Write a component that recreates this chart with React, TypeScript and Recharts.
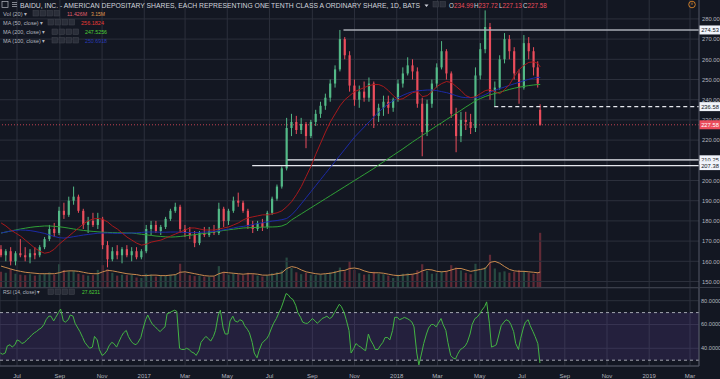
import React from "react";
import {
  Bar,
  CartesianGrid,
  Cell,
  ComposedChart,
  Line,
  LineChart,
  ReferenceArea,
  ReferenceLine,
  XAxis,
  YAxis,
} from "recharts";

const FONT = '"Liberation Sans", Arial, sans-serif';
const BG = "#131722";
const GRID = "#2c303c";
const AXIS = "#555966";
const TEXT = "#b2b5be";
const UP = "#53b987";
const DOWN = "#eb4d5c";

const DAY = 86400000;
// weekly candles (Mon of each week), last session shown as its own daily candle
const FIRST_MONDAY = "2016-06-06";
const LAST_SESSION = "2018-07-27";
const X0 = Date.parse("2016-06-06T10:00:00Z");
const X1 = Date.parse("2019-03-14T00:00:00Z");

const monthTicks = [
  "2016-07-01", "2016-09-01", "2016-11-01", "2017-01-01", "2017-03-01", "2017-05-01",
  "2017-07-01", "2017-09-01", "2017-11-01", "2018-01-01", "2018-03-01", "2018-05-01",
  "2018-07-01", "2018-09-01", "2018-11-01", "2019-01-01", "2019-03-01",
].map((d) => Date.parse(d));
const monthNames = ["Jan", "Feb", "Mar", "Apr", "May", "Jun", "Jul", "Aug", "Sep", "Oct", "Nov", "Dec"];

const opens = [166,163,165,160,164,163,162,164,163,167, 171,176,174,185,183,190,192,185,178,180, 178,181,168,161,165,163,166,163,165,162, 165,176,178,175,177,181,185,187,176,174, 173,169,174,173,175,174,186,180,185,190, 189,185,178,176,179,177,184,191,197,206, 226,229,225,228,222,229,233,237,241,248, 255,270,262,247,240,244,241,248,232,236, 239,236,240,248,253,257,254,238,224,238, 248,256,264,253,233,222,230,229,226,252, 265,276,244,246,260,270,264,253,246,268, 264,256,234.99];
const highs = [168,166,167,165,171,167,166,167,168,172, 178,179,187,189,192,197,193,186,182,184, 184,182,170,167,168,167,168,167,167,166, 178,180,180,178,182,186,189,188,178,177, 175,175,177,177,178,189,187,186,192,194, 190,186,180,180,181,185,192,198,207,231, 233,232,231,229,230,235,239,243,250,257, 274.53,271,264,250,247,249,251,249,238,242, 242,241,250,256,261,260,256,241,240,250, 258,269,265,254,236,234,234,233,256,268, 284.22,278,249,262,273,272,266,255,272,271, 266,259,237.72];
const lows = [162,160,158,158,162,160,159,161,162,166, 170,172,173,181,182,188,184,176,174,177, 176,166,157,160,161,159,162,160,161,161, 164,173,174,173,176,180,184,174,172,171, 167,168,172,172,173,173,177,178,184,187, 184,176,174,175,175,176,183,190,196,205, 222,223,223,216,221,227,231,235,239,246, 254,260,244,237,236,239,239,226,229,232, 233,234,239,246,252,250,236,212,222,236, 246,255,250,231,214,219,225,223,224,250, 263,240,236.58,245,258,260,250,238,245,260, 252,246,227.13];
const closes = [163,165,160,164,163,162,164,163,167,171, 176,174,185,183,190,192,185,178,180,178, 181,168,161,165,163,166,163,165,162,165, 176,178,175,177,181,185,187,176,174,173, 169,174,173,175,174,186,180,185,190,189, 185,178,176,179,177,184,191,197,206,226, 229,225,228,222,229,233,237,241,248,255, 270,262,247,240,244,241,248,232,236,239, 236,240,248,253,257,254,238,224,238,248, 256,264,253,233,222,230,229,226,252,265, 276,244,246,260,270,264,253,246,268,264, 256,248,227.58];

// average daily volume, millions of shares
const volumes = [3.2,3.0,3.8,2.8,2.6,2.5,2.7,2.4,2.6,2.9,3.1,2.6, 4.8,3.6,3.3,3.4,2.8,2.6,2.4,2.5,3.6,4.6,3.8,3.0, 2.4,2.6,2.5,2.6,2.0,1.9,2.8,2.6,2.2,2.4,2.5,2.6, 2.7,4.9,3.0,2.5,2.3,2.4,2.2,2.1,2.2,4.4,3.2,2.6, 2.9,2.7,2.5,3.0,2.7,2.4,2.2,2.5,2.9,3.1,3.5,6.2, 4.0,3.1,2.7,3.0,2.6,2.5,2.6,2.8,3.1,3.4,4.1,3.3, 5.4,3.6,2.9,2.6,2.7,3.2,2.8,2.7,2.4,1.9,2.6,2.8, 2.9,2.7,3.5,4.8,3.4,2.8,2.9,3.3,3.4,4.6,4.1,3.5, 3.0,2.7,4.9,3.6,4.2,6.8,3.9,3.1,3.3,3.0,3.2,3.6, 3.4,3.0,2.8,3.1,11.426];
const volMa = [4.4,4.1,3.8,3.5,3.3,3.1,3.0,2.9,2.8,2.8,2.8,2.8, 3.0,3.3,3.4,3.4,3.3,3.1,2.9,2.8,2.8,3.2,3.5,3.4, 3.2,3.0,2.8,2.7,2.6,2.4,2.4,2.5,2.5,2.4,2.4,2.5, 2.6,3.1,3.2,3.0,2.8,2.6,2.4,2.3,2.3,2.8,3.1,3.0, 2.9,2.8,2.7,2.8,2.8,2.7,2.5,2.5,2.6,2.8,3.0,3.9, 4.3,4.1,3.6,3.2,3.0,2.8,2.7,2.8,2.9,3.1,3.4,3.5, 3.9,4.0,3.8,3.4,3.1,3.0,3.0,2.9,2.7,2.5,2.4,2.5, 2.6,2.7,2.9,3.4,3.7,3.6,3.3,3.2,3.3,3.6,3.9,3.9, 3.6,3.3,3.5,3.7,3.9,5.2,5.4,5.0,4.3,3.7,3.4,3.3, 3.3,3.2,3.1,3.0,3.15];

const ma50 = [179,177.5,175.5,174,172.5,170.5,168.5,166.5,165,164, 164.5,166,168.5,170.5,172.5,174.5,176.5,178.5,180,181, 181.2,180.8,179.5,177.5,176,174,172,170.5,169,168, 168.5,169.5,170,170.5,171.5,172.5,173.5,174.5,175.5,176.5, 176.5,176,175.5,175.5,175.5,176,176.5,177,178,179, 180.5,181.5,182,182.5,183,183,183.5,184,185,187, 189.5,193,197,202,207,213,218.5,224,229,233, 237,240,242,244,245,246,247,247.5,247.5,246.5, 244.5,242,240,240.5,242,243.5,244,241.5,242,244, 246.5,248,249,248.5,246.5,244.5,242,241,241.5,243, 244.5,245,244,243,245,247.5,251.5,255,257,258.5, 258.7,258,256.18];
const ma100 = [174,174.5,175,175.3,175.5,175.4,175.2,174.8,174.3,173.8, 173,172.3,171.7,171.5,171.8,172.2,172.6,173,173.3,173.6, 173.9,174,174,173.9,173.8,173.8,173.9,174,174.1,174.3, 174.5,174.5,174.5,174.4,174.4,174.5,174.5,174.4,174.3,174.2, 174.2,174.3,174.5,174.6,174.8,175.2,175.6,176,176.5,177, 177.3,177.7,178.2,178.7,179.1,179.5,179.9,180.2,180.6,181.2, 183,185.5,188.5,191.5,194.5,197.5,200.5,203.5,206.5,209.5, 212.5,215.5,218.5,221.5,224,226.5,229,231.5,234,236, 238,239.5,241,242.2,243.2,244,244.4,244.6,244.8,244.8, 244.5,244,243.5,242.8,242,241.3,241,241,241,241.5, 242.5,243.8,244.7,245.5,246.3,247.1,247.9,248.6,249.4,250.1, 250.7,251.1,251];
const ma200 = [174,174.5,175,175.5,176,176.4,176.8,177.1,177.3,177.5, 177.5,177.3,177.1,176.8,176.4,176,175.6,175.3,175,174.8, 174.6,174.4,174.3,174.2,174.1,174.1,174,174,173.7,173.4, 173.1,172.8,172.5,172.3,172.1,172,172.1,172.3,172.6,172.9, 173.2,173.5,173.8,174.1,174.5,174.9,175.3,175.6,175.9,176.2, 176.5,176.6,176.7,176.8,176.9,177,177,177.1,177.5,178.5, 180.5,182,183.5,185,186.5,188,189.5,191,192.5,194, 195.5,197,198.5,200,201.5,203,204.5,206,207.7,209.3, 210.9,212.5,214.1,215.7,217.4,219.1,220.7,222.3,223.9,225.5, 227.1,228.6,230.2,231.7,233.3,234.8,236.4,237.9,239.5,240.6, 241.6,242.4,243.1,243.7,244.4,245.1,245.7,246.2,246.6,247, 247.3,247.5,247.53];

// RSI(14): one early-week (Tue) and one late-week (Fri) reading per week
const rsiEarly = [36,36,43,43,46,45,49,53,56,60, 67,63,70,63,64,67,57,49,42,41, 47,34,38,45,41,50,55,46,43,49, 64,63,58,54,58,70,72,40,39,39, 36,38,48,48,50,68,57,52,67,62, 63,56,45,32,44,48,57,65,74,86, 82,76,66,61,63,63,63,66,65,70, 77,70,55,40,42,39,52,43,39,45, 49,55,66,65,65,62,36,36,52,60, 58,65,55,34,31,39,42,52,65,69, 75,61,42,52,62,63,54,39,57,64, 54,44];
const rsiLate = [35,42,41,47,44,47,51,54,57,64, 67,66,73,62,68,61,54,45,40,50, 39,35,42,44,45,53,50,44,45,56, 68,60,56,56,69,71,71,39,40,37, 34,45,50,46,55,72,52,63,63,64, 59,53,36,38,46,51,61,69,79,85, 81,70,62,61,65,61,65,67,66,73, 75,64,36,44,41,38,47,39,42,49, 47,66,64,66,64,58,26,44,57,60, 61,60,45,32,35,40,45,60,66,72, 79,41,43,59,64,60,44,48,62,59, 50,27.6231];

// horizontal levels drawn on the price pane
const levelValues = [274.53, 236.58, 210.25, 207.38];
const levelStarts = ["2017-10-16", "2018-05-22", "2017-07-27", "2017-06-06"];
const levelDashed = [false, true, false, false];
const lastPrice = 227.58;

const priceTicks = [150, 160, 170, 180, 190, 200, 210, 220, 230, 240, 250, 260, 270, 280];
const P0 = 147.28;
const P1 = 289.36;

const weekStart = Date.parse(FIRST_MONDAY);
const candles = opens.map((o, k) => {
  const last = k === opens.length - 1;
  const t = last
    ? Date.parse(LAST_SESSION) + 12 * 3600000
    : weekStart + k * 7 * DAY + (k === opens.length - 2 ? 1 : 2) * DAY;
  return {
    t,
    open: o,
    high: highs[k],
    low: lows[k],
    close: closes[k],
    range: [lows[k], highs[k]],
    volume: volumes[k],
    volMa: volMa[k],
    ma50: ma50[k],
    ma100: ma100[k],
    ma200: ma200[k],
  };
});

const rsiRows: { t: number; rsi: number }[] = [];
rsiEarly.forEach((v, k) => {
  rsiRows.push({ t: weekStart + k * 7 * DAY + DAY, rsi: v });
  rsiRows.push({ t: weekStart + k * 7 * DAY + 4 * DAY, rsi: rsiLate[k] });
});

function Candle(props: any) {
  const { x, y, width, height, payload } = props;
  if (!payload) return null;
  const { open, close, high, low } = payload;
  const color = close >= open ? UP : DOWN;
  const span = high - low || 1;
  const py = (v: number) => y + ((high - v) / span) * height;
  const cx = x + width / 2;
  const top = py(Math.max(open, close));
  const bot = py(Math.min(open, close));
  return (
    <g>
      <line x1={cx} x2={cx} y1={y} y2={y + height} stroke={color} strokeWidth={1} />
      <rect x={x} y={top} width={width} height={Math.max(1, bot - top)} fill={color} />
    </g>
  );
}

function PriceTick(props: any) {
  const { x, y, payload } = props;
  const v = payload.value as number;
  const label = v.toFixed(2);
  const isLast = Math.abs(v - lastPrice) < 0.001;
  const isLevel = levelValues.some((l) => Math.abs(l - v) < 0.001);
  if (isLast || isLevel) {
    return (
      <g>
        <rect x={x - 1.5} y={y - 4.5} width={21} height={9} fill={isLast ? DOWN : "#f0f3fa"} />
        <text x={x + 9} y={y + 2.2} textAnchor="middle" fontSize={5.8} fontFamily={FONT} fill={isLast ? "#ffffff" : "#131722"}>
          {label}
        </text>
      </g>
    );
  }
  return (
    <text x={x + 1} y={y + 2.2} fontSize={5.8} fontFamily={FONT} fill={TEXT}>
      {label}
    </text>
  );
}

function Boxes({ x, y, n }: { x: number; y: number; n: number }) {
  return (
    <g>
      {Array.from({ length: n }).map((_, i) => (
        <rect key={i} x={x + i * 7} y={y} width={5.5} height={5.5} fill="#2a2e39" stroke="#434651" strokeWidth={0.5} />
      ))}
    </g>
  );
}

const ohlc = [
  { k: "O", v: "234.99", x: 449 },
  { k: "H", v: "237.72", x: 474 },
  { k: "L", v: "227.13", x: 499 },
  { k: "C", v: "227.58", x: 523 },
];

function Overlay() {
  const legend = [
    { label: "Vol (20) \u25be", w: 24, y: 15.5, bx: 33, vals: [{ t: "11.426M", x: 67, w: 20, c: "#e2606e" }, { t: "3.15M", x: 91, w: 14, c: "#e29a4e" }] },
    { label: "MA (50, close) \u25be", w: 40, y: 24.5, bx: 48, vals: [{ t: "256.1824", x: 81, w: 23, c: "#e53935" }] },
    { label: "MA (200, close) \u25be", w: 42, y: 34, bx: 52, vals: [{ t: "247.5256", x: 85, w: 22, c: "#4cd137" }] },
    { label: "MA (100, close) \u25be", w: 42, y: 42.5, bx: 52, vals: [{ t: "250.6918", x: 85, w: 22, c: "#2a3bb5" }] },
  ];
  return (
    <svg width={720} height={379} style={{ position: "absolute", left: 0, top: 0, pointerEvents: "none" }} fontFamily={FONT}>
      <line x1={0} x2={720} y1={287.5} y2={287.5} stroke="#3a3e4a" />
      <rect x={2} y={1.5} width={6} height={6} fill="none" stroke={TEXT} strokeWidth={0.7} />
      <line x1={12} x2={17} y1={2.5} y2={2.5} stroke={TEXT} strokeWidth={0.7} />
      <line x1={12} x2={17} y1={4.5} y2={4.5} stroke={TEXT} strokeWidth={0.7} />
      <line x1={12} x2={17} y1={6.5} y2={6.5} stroke={TEXT} strokeWidth={0.7} />
      <text x={20} y={8} fontSize={6.8} fill="#d1d4dc" textLength={400} lengthAdjust="spacingAndGlyphs">
        BAIDU, INC. - AMERICAN DEPOSITARY SHARES, EACH REPRESENTING ONE TENTH CLASS A ORDINARY SHARE, 1D, BATS
      </text>
      <path d="M424.5 4.5 L428.5 4.5 L426.5 7 Z" fill="#d1d4dc" />
      <Boxes x={433} y={1.5} n={2} />
      {ohlc.map((o) => (
        <text key={o.k} x={o.x} y={8} fontSize={6.3}>
          <tspan fill="#d1d4dc">{o.k}</tspan>
          <tspan fill={DOWN}>{o.v}</tspan>
        </text>
      ))}
      <circle cx={692} cy={4.5} r={3.3} fill="none" stroke="#f0902a" strokeWidth={0.8} />
      <line x1={692} x2={692} y1={2.6} y2={4.8} stroke="#f0902a" strokeWidth={0.8} />
      {legend.map((r) => (
        <g key={r.label}>
          <text x={3} y={r.y} fontSize={6} fill={TEXT} textLength={r.w} lengthAdjust="spacingAndGlyphs">{r.label}</text>
          <Boxes x={r.bx} y={r.y - 5} n={4} />
          {r.vals.map((v) => (
            <text key={v.t} x={v.x} y={r.y} fontSize={6} fill={v.c} textLength={v.w} lengthAdjust="spacingAndGlyphs">{v.t}</text>
          ))}
        </g>
      ))}
      <text x={3} y={294} fontSize={6} fill={TEXT} textLength={37} lengthAdjust="spacingAndGlyphs">{"RSI (14, close) \u25be"}</text>
      <Boxes x={48} y={289} n={4} />
      <text x={82} y={294} fontSize={6} fill="#4cd137" textLength={18} lengthAdjust="spacingAndGlyphs">27.6231</text>
    </svg>
  );
}

const fmtMonth = (t: number) => {
  const d = new Date(t);
  return d.getUTCMonth() === 0 ? String(d.getUTCFullYear()) : monthNames[d.getUTCMonth()];
};

export default function App() {
  return (
    <div style={{ position: "absolute", left: 0, top: 0, width: 720, height: 379, background: BG, overflow: "hidden", fontFamily: FONT }}>
      {/* grid + volume layer */}
      <div style={{ position: "absolute", left: 0, top: 0 }}>
        <ComposedChart width={720} height={287} data={candles} margin={{ top: 0, right: 21, bottom: 0, left: 0 }}>
          <XAxis dataKey="t" type="number" domain={[X0, X1]} hide allowDataOverflow />
          <YAxis domain={[0, 60.5]} hide allowDataOverflow />
          <YAxis yAxisId="price" domain={[P0, P1]} hide allowDataOverflow />
          {priceTicks.map((p) => (
            <ReferenceLine key={"h" + p} yAxisId="price" y={p} stroke={GRID} strokeWidth={1} />
          ))}
          {monthTicks.map((t) => (
            <ReferenceLine key={"v" + t} x={t} stroke={GRID} strokeWidth={1} />
          ))}
          <Bar dataKey="volume" barSize={4} isAnimationActive={false}>
            {candles.map((c, i) => (
              <Cell key={i} fill={c.close >= c.open ? "rgba(83,185,135,0.32)" : "rgba(235,77,92,0.36)"} />
            ))}
          </Bar>
          <Line dataKey="volMa" type="linear" stroke="#c98a4e" strokeWidth={1} dot={false} activeDot={false} isAnimationActive={false} />
        </ComposedChart>
      </div>
      {/* price layer */}
      <div style={{ position: "absolute", left: 0, top: 0 }}>
        <ComposedChart width={720} height={287} data={candles} margin={{ top: 0, right: 0, bottom: 0, left: 0 }}>
          <XAxis dataKey="t" type="number" domain={[X0, X1]} hide allowDataOverflow />
          <YAxis
            orientation="right"
            width={21}
            domain={[P0, P1]}
            allowDataOverflow
            ticks={[...priceTicks, lastPrice, ...levelValues]}
            interval={0}
            tick={(p: any) => <PriceTick {...p} />}
            tickLine={false}
            tickSize={2}
            tickMargin={0}
            axisLine={{ stroke: AXIS }}
          />
          <ReferenceLine y={lastPrice} stroke={DOWN} strokeOpacity={0.8} strokeDasharray="1 2" />
          {levelValues.map((v, i) => (
            <ReferenceLine
              key={v}
              segment={[{ x: Date.parse(levelStarts[i]), y: v }, { x: X1, y: v }]}
              stroke={i === 0 ? "#a9acb4" : "#e6e8ee"}
              strokeWidth={i === 0 ? 1.6 : 1.3}
              strokeDasharray={levelDashed[i] ? "4 3" : undefined}
            />
          ))}
          <Bar dataKey="range" barSize={3} shape={(p: any) => <Candle {...p} />} isAnimationActive={false} />
          <Line dataKey="ma200" type="linear" stroke="#2fa036" strokeWidth={1} dot={false} activeDot={false} isAnimationActive={false} />
          <Line dataKey="ma100" type="linear" stroke="#1c2aa6" strokeWidth={1} dot={false} activeDot={false} isAnimationActive={false} />
          <Line dataKey="ma50" type="linear" stroke="#a8191c" strokeWidth={1} dot={false} activeDot={false} isAnimationActive={false} />
        </ComposedChart>
      </div>
      {/* RSI pane */}
      <div style={{ position: "absolute", left: 0, top: 288 }}>
        <LineChart width={720} height={91} data={rsiRows} margin={{ top: 0, right: 0, bottom: 0, left: 0 }}>
          <CartesianGrid stroke={GRID} />
          <ReferenceArea y1={30} y2={70} fill="#6a48a8" fillOpacity={0.2} stroke="none" />
          <ReferenceLine y={70} stroke="#a3a6af" strokeDasharray="3 3" />
          <ReferenceLine y={30} stroke="#a3a6af" strokeDasharray="3 3" />
          <XAxis
            dataKey="t"
            type="number"
            domain={[X0, X1]}
            allowDataOverflow
            ticks={monthTicks}
            interval={0}
            tickFormatter={fmtMonth}
            height={13}
            tickLine={false}
            axisLine={{ stroke: AXIS }}
            tick={{ fill: TEXT, fontSize: 6, fontFamily: FONT }}
            tickMargin={2}
          />
          <YAxis
            orientation="right"
            width={21}
            domain={[25.12, 90.67]}
            allowDataOverflow
            ticks={[40, 60, 80]}
            interval={0}
            tickFormatter={(v: number) => v.toFixed(4)}
            tickLine={false}
            tickSize={2}
            tickMargin={0}
            axisLine={{ stroke: AXIS }}
            tick={{ fill: TEXT, fontSize: 5.6, fontFamily: FONT }}
          />
          <Line dataKey="rsi" type="linear" stroke="#43b443" strokeWidth={1} dot={false} activeDot={false} isAnimationActive={false} />
        </LineChart>
      </div>
      <Overlay />
    </div>
  );
}
